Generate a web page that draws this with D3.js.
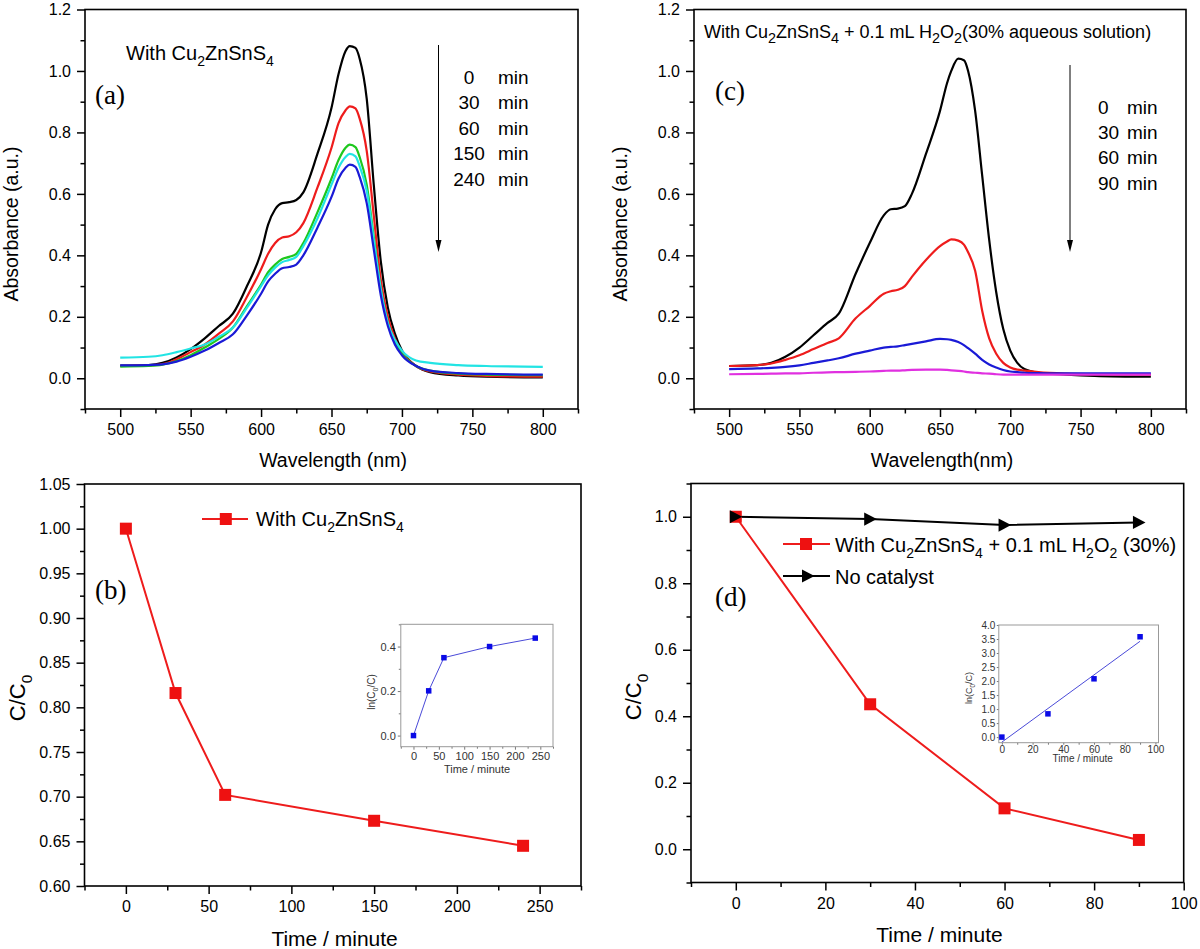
<!DOCTYPE html>
<html><head><meta charset="utf-8">
<script src="https://cdn.jsdelivr.net/npm/d3@7"></script>
<style>
body{margin:0;background:#fff}
svg{display:block}
</style>
</head><body>
<svg id="c" width="1200" height="949" font-family="Liberation Sans, Arial, sans-serif"></svg>
<script>
// ---------------- DATA ----------------
// Panel (a): UV-vis spectra with Cu2ZnSnS4
const wlA = [500,520,530,540,550,560,570,580,590,600,605,610,615,620,625,630,640,650,655,660,663,667,670,675,680,685,690,695,700,710,720,740,760,800];
const a_0min   = [.041,.043,.050,.068,.095,.130,.170,.210,.300,.410,.500,.550,.570,.573,.580,.605,.730,.880,.990,1.065,1.081,1.075,1.040,.910,.630,.380,.230,.145,.090,.040,.020,.009,.005,.003];
const a_30min  = [.040,.042,.046,.062,.085,.110,.145,.185,.265,.355,.405,.440,.458,.462,.475,.505,.620,.750,.830,.872,.885,.878,.845,.740,.530,.320,.200,.130,.085,.040,.022,.012,.008,.005];
const a_60min  = [.038,.040,.044,.056,.075,.100,.128,.165,.235,.305,.345,.370,.388,.395,.405,.440,.540,.650,.710,.750,.760,.752,.720,.630,.460,.290,.180,.120,.080,.040,.025,.015,.012,.010];
const a_150min = [.067,.070,.075,.085,.097,.110,.135,.165,.230,.300,.335,.360,.378,.385,.395,.430,.520,.630,.685,.720,.730,.722,.690,.610,.450,.290,.180,.125,.090,.058,.050,.043,.040,.037];
const a_240min = [.042,.043,.045,.054,.070,.090,.115,.143,.205,.275,.315,.340,.358,.362,.370,.400,.490,.590,.650,.685,.695,.688,.655,.570,.420,.270,.170,.110,.075,.040,.025,.017,.014,.012];
const seriesA = [
  {name:"0 min",   color:"#000000", v:a_0min},
  {name:"30 min",  color:"#ee1c1c", v:a_30min},
  {name:"60 min",  color:"#1ec81e", v:a_60min},
  {name:"150 min", color:"#22e4e4", v:a_150min},
  {name:"240 min", color:"#1a1ad6", v:a_240min}
];
const timeLabelsA = ["0","30","60","150","240"];

// Panel (c): spectra with Cu2ZnSnS4 + H2O2
const wlC = [500,520,530,540,550,560,570,578,590,600,610,615,620,625,630,640,650,655,658,663,667,670,675,680,685,690,695,700,705,710,720,740,760,800];
const c_0min  = [.040,.043,.050,.070,.100,.140,.180,.210,.340,.440,.530,.550,.552,.560,.600,.730,.870,.960,1.000,1.040,1.035,1.000,.870,.660,.450,.280,.160,.090,.050,.030,.018,.012,.008,.005];
const c_30min = [.040,.043,.048,.060,.075,.095,.115,.130,.195,.235,.275,.283,.288,.300,.330,.385,.430,.445,.452,.448,.435,.410,.350,.220,.130,.080,.050,.035,.028,.025,.020,.015,.013,.012];
const c_60min = [.030,.032,.034,.037,.042,.050,.058,.065,.080,.090,.100,.102,.104,.108,.112,.120,.128,.127,.125,.118,.108,.098,.080,.060,.045,.035,.027,.022,.020,.018,.017,.016,.016,.016];
const c_90min = [.013,.014,.015,.016,.016,.018,.019,.020,.021,.022,.024,.025,.025,.026,.027,.028,.028,.027,.026,.024,.022,.020,.018,.016,.015,.013,.012,.012,.012,.012,.012,.012,.012,.012];
const seriesC = [
  {name:"0 min",  color:"#000000", v:c_0min},
  {name:"30 min", color:"#ee1c1c", v:c_30min},
  {name:"60 min", color:"#1a1ad6", v:c_60min},
  {name:"90 min", color:"#e030e0", v:c_90min}
];
const timeLabelsC = ["0","30","60","90"];

// Panel (b): C/C0 vs time with Cu2ZnSnS4
const timeB = [0,30,60,150,240];
const ratioB = [1.000,0.816,0.702,0.673,0.645];
const lnB = [0.000,0.201,0.350,0.400,0.438];

// Panel (d): C/C0 vs time with Cu2ZnSnS4 + H2O2 and without catalyst
const timeD = [0,30,60,90];
const ratioD_cat = [1.000,0.436,0.123,0.028];
const ratioD_none = [1.000,0.993,0.975,0.983];
const lnD = [0.00,0.83,2.08,3.58];
const fitD = [[0,-0.18],[90,3.42]];

// tick values
const ticksSpecX = [500,550,600,650,700,750,800];
const ticksSpecXMinor = [475,525,575,625,675,725,775,825];
const ticksSpecY = [0,0.2,0.4,0.6,0.8,1.0,1.2];
const ticksSpecYMinor = [-0.1,0.1,0.3,0.5,0.7,0.9,1.1];
const ticksBX = [0,50,100,150,200,250];
const ticksBXMinor = [-25,25,75,125,175,225,275];
const ticksBY = [0.60,0.65,0.70,0.75,0.80,0.85,0.90,0.95,1.00,1.05];
const ticksBYMinor = [0.625,0.675,0.725,0.775,0.825,0.875,0.925,0.975,1.025];
const ticksDX = [0,20,40,60,80,100];
const ticksDXMinor = [-10,10,30,50,70,90];
const ticksDY = [0,0.2,0.4,0.6,0.8,1.0];
const ticksDYMinor = [-0.1,0.1,0.3,0.5,0.7,0.9,1.1];
const insBX = [0,50,100,150,200,250];
const insBXMinor = [-25,25,75,125,175,225,275];
const insBY = [0,0.2,0.4];
const insBYMinor = [0.1,0.3,0.5];
const insDX = [0,20,40,60,80,100];
const insDXMinor = [10,30,50,70,90];
const insDY = [0,0.5,1.0,1.5,2.0,2.5,3.0,3.5,4.0];

// ---------------- DRAWING ----------------
const svg = d3.select("#c");
const SANS = '"Liberation Sans", Arial, sans-serif';
const SERIF = '"Liberation Serif", "Times New Roman", serif';

function mkPanel(o) {
  const g = svg.append("g");
  const x = d3.scaleLinear().domain(o.xd).range([o.l, o.r]);
  const y = d3.scaleLinear().domain(o.yd).range([o.b, o.t]);
  const style = (sel) => {
    sel.select(".domain").remove();
    sel.attr("font-family", SANS).attr("font-size", o.fs);
    sel.selectAll("line").attr("stroke", o.tickColor).attr("stroke-width", o.sw);
    sel.selectAll("text").attr("fill", o.textColor);
  };
  g.append("g").attr("transform", `translate(0,${o.b})`)
    .call(d3.axisBottom(x).tickValues(o.xMinor).tickSize(o.minLen).tickFormat("")).call(style);
  g.append("g").attr("transform", `translate(${o.l},0)`)
    .call(d3.axisLeft(y).tickValues(o.yMinor).tickSize(o.minLen).tickFormat("")).call(style);
  g.append("g").attr("transform", `translate(0,${o.b})`)
    .call(d3.axisBottom(x).tickValues(o.xMaj).tickSize(o.majLen).tickPadding(o.xpad).tickFormat(o.xf)).call(style);
  g.append("g").attr("transform", `translate(${o.l},0)`)
    .call(d3.axisLeft(y).tickValues(o.yMaj).tickSize(o.majLen).tickPadding(o.ypad).tickFormat(o.yf)).call(style);
  g.append("rect").attr("x", o.l).attr("y", o.t).attr("width", o.r - o.l).attr("height", o.b - o.t)
    .attr("fill", "none").attr("stroke", o.frameColor).attr("stroke-width", o.fw);
  return {g, x, y};
}

function rich(g, x, y, parts, fs, opt) {
  opt = opt || {};
  const t = g.append("text").attr("x", x).attr("y", y).attr("font-size", fs)
    .attr("font-family", opt.family || SANS)
    .attr("text-anchor", opt.anchor || "start")
    .attr("fill", opt.fill || "#000");
  if (opt.transform) t.attr("transform", opt.transform).attr("x", 0).attr("y", 0);
  const subScale = opt.subScale || 0.7;
  const subShift = opt.subShift || 0.3;
  let shifted = 0;
  parts.forEach(p => {
    const s = typeof p === "string" ? {t: p} : p;
    const ts = t.append("tspan").text(s.t);
    const want = s.sub ? fs * subShift : 0;
    if (want !== shifted) { ts.attr("dy", want - shifted); shifted = want; }
    if (s.sub) ts.attr("font-size", fs * subScale);
  });
  return t;
}

function label(g, x, y, txt, fs, opt) {
  opt = opt || {};
  const t = g.append("text").attr("x", x).attr("y", y).attr("font-size", fs)
    .attr("font-family", opt.family || SANS)
    .attr("text-anchor", opt.anchor || "start")
    .attr("fill", opt.fill || "#000").text(txt);
  if (opt.transform) t.attr("transform", opt.transform).attr("x", 0).attr("y", 0);
  return t;
}

function arrow(g, x, y1, y2) {
  g.append("line").attr("x1", x).attr("x2", x).attr("y1", y1).attr("y2", y2 - 10)
    .attr("stroke", "#000").attr("stroke-width", 1);
  g.append("path").attr("d", `M${x-3},${y2-12} L${x+3},${y2-12} L${x},${y2} Z`).attr("fill", "#000");
}

const fmt1 = d3.format(".1f"), fmt2 = d3.format(".2f"), fmt0 = d3.format("d");
const mainStyle = {fs:16, majLen:8, minLen:4.5, sw:1.5, fw:1.6, tickColor:"#000", textColor:"#000", frameColor:"#000", xpad:7, ypad:6};

// ----- Panel (a) -----
{
  const P = mkPanel(Object.assign({}, mainStyle, {l:85, r:578, t:9.5, b:409, xd:[475,825], yd:[-0.1,1.2],
    xMaj:ticksSpecX, xMinor:ticksSpecXMinor, yMaj:ticksSpecY, yMinor:ticksSpecYMinor, xf:fmt0, yf:fmt1}));
  const line = d3.line().x((d,i) => P.x(wlA[i])).y(d => P.y(d)).curve(d3.curveMonotoneX);
  seriesA.forEach(s => P.g.append("path").datum(s.v).attr("d", line).attr("fill","none")
    .attr("stroke", s.color).attr("stroke-width", 2.2).attr("stroke-linejoin","round"));
  rich(P.g, 126, 60, ["With Cu", {t:"2",sub:1}, "ZnSnS", {t:"4",sub:1}], 20);
  label(P.g, 95, 104, "(a)", 27, {family:SERIF});
  arrow(P.g, 438.5, 45, 252);
  timeLabelsA.forEach((t,i) => {
    const yy = 83.5 + i * 25.6;
    label(P.g, 469, yy, t, 19, {anchor:"middle"});
    label(P.g, 498, yy, "min", 19);
  });
  label(P.g, 333, 467, "Wavelength (nm)", 19.5, {anchor:"middle"});
  label(P.g, 0, 0, "Absorbance (a.u.)", 19.5, {anchor:"middle", transform:"translate(18,224) rotate(-90)"});
}

// ----- Panel (c) -----
{
  const P = mkPanel(Object.assign({}, mainStyle, {l:694, r:1186, t:9.5, b:409, xd:[475,825], yd:[-0.1,1.2],
    xMaj:ticksSpecX, xMinor:ticksSpecXMinor, yMaj:ticksSpecY, yMinor:ticksSpecYMinor, xf:fmt0, yf:fmt1}));
  const line = d3.line().x((d,i) => P.x(wlC[i])).y(d => P.y(d)).curve(d3.curveMonotoneX);
  seriesC.forEach(s => P.g.append("path").datum(s.v).attr("d", line).attr("fill","none")
    .attr("stroke", s.color).attr("stroke-width", 2.2).attr("stroke-linejoin","round"));
  rich(P.g, 704, 38, ["With Cu", {t:"2",sub:1}, "ZnSnS", {t:"4",sub:1}, " + 0.1 mL H", {t:"2",sub:1}, "O", {t:"2",sub:1}, "(30% aqueous solution)"], 18, {subScale:0.8, subShift:0.3});
  label(P.g, 715, 100, "(c)", 27, {family:SERIF});
  arrow(P.g, 1070, 65, 252);
  timeLabelsC.forEach((t,i) => {
    const yy = 113.5 + i * 25.4;
    label(P.g, 1098, yy, t, 19);
    label(P.g, 1127, yy, "min", 19);
  });
  label(P.g, 942, 467, "Wavelength(nm)", 19.5, {anchor:"middle"});
  label(P.g, 0, 0, "Absorbance (a.u.)", 19.5, {anchor:"middle", transform:"translate(627,224) rotate(-90)"});
}

function squares(g, x, y, xs, ys, size, color) {
  g.selectAll(null).data(xs).enter().append("rect")
    .attr("x", (d) => x(d) - size/2).attr("y", (d,i) => y(ys[i]) - size/2)
    .attr("width", size).attr("height", size).attr("fill", color);
}
function triR(g, cx, cy, s, color) {
  g.append("path").attr("d", `M${cx - s*0.5},${cy - s*0.55} L${cx + s*0.55},${cy} L${cx - s*0.5},${cy + s*0.55} Z`).attr("fill", color);
}

const insStyle = {majLen:3, minLen:2, sw:1, fw:1, tickColor:"#777", textColor:"#333", frameColor:"#999"};

// ----- Panel (b) -----
{
  const P = mkPanel(Object.assign({}, mainStyle, {l:84.5, r:581, t:484, b:886, xd:[-25,275], yd:[0.60,1.05],
    xMaj:ticksBX, xMinor:ticksBXMinor, yMaj:ticksBY, yMinor:ticksBYMinor, xf:fmt0, yf:fmt2}));
  const line = d3.line().x((d,i) => P.x(timeB[i])).y(d => P.y(d));
  P.g.append("path").datum(ratioB).attr("d", line).attr("fill","none").attr("stroke","#ee1c1c").attr("stroke-width",2);
  squares(P.g, P.x, P.y, timeB, ratioB, 12, "#ee1111");
  // legend
  P.g.append("line").attr("x1",202).attr("x2",248).attr("y1",519).attr("y2",519).attr("stroke","#ee1c1c").attr("stroke-width",2);
  P.g.append("rect").attr("x",225.8-6).attr("y",519-6).attr("width",12).attr("height",12).attr("fill","#ee1111");
  rich(P.g, 256, 526, ["With Cu", {t:"2",sub:1}, "ZnSnS", {t:"4",sub:1}], 20);
  label(P.g, 95, 599, "(b)", 27, {family:SERIF});
  label(P.g, 334.6, 946, "Time / minute", 21, {anchor:"middle"});
  rich(P.g, 0, 0, ["C/C", {t:"0",sub:1}], 22, {anchor:"middle", transform:"translate(25,698) rotate(-90)"});

  // inset
  const I = mkPanel(Object.assign({}, insStyle, {fs:11, l:400.8, r:553, t:624.3, b:746.7, xd:[-25,275], yd:[-0.05,0.5],
    xMaj:insBX, xMinor:insBXMinor, yMaj:insBY, yMinor:insBYMinor, xf:fmt0, yf:fmt1, xpad:2.5, ypad:2}));
  const il = d3.line().x((d,i) => I.x(timeB[i])).y(d => I.y(d));
  I.g.append("path").datum(lnB).attr("d", il).attr("fill","none").attr("stroke","#4a4ad8").attr("stroke-width",1);
  squares(I.g, I.x, I.y, timeB, lnB, 5.5, "#0a0ae6");
  label(I.g, 477, 773, "Time / minute", 11, {anchor:"middle", fill:"#333"});
  rich(I.g, 0, 0, ["ln(C", {t:"0",sub:1}, "/C)"], 10, {anchor:"middle", transform:"translate(375,692) rotate(-90)", fill:"#333"});
}

// ----- Panel (d) -----
{
  const P = mkPanel(Object.assign({}, mainStyle, {l:691, r:1183.7, t:483.5, b:882.5, xd:[-10,100], yd:[-0.1,1.1],
    xMaj:ticksDX, xMinor:ticksDXMinor, yMaj:ticksDY, yMinor:ticksDYMinor, xf:fmt0, yf:fmt1}));
  const line = d3.line().x((d,i) => P.x(timeD[i])).y(d => P.y(d));
  P.g.append("path").datum(ratioD_cat).attr("d", line).attr("fill","none").attr("stroke","#ee1c1c").attr("stroke-width",2);
  P.g.append("path").datum(ratioD_none).attr("d", line).attr("fill","none").attr("stroke","#000").attr("stroke-width",2);
  squares(P.g, P.x, P.y, timeD, ratioD_cat, 12, "#ee1111");
  timeD.forEach((t,i) => triR(P.g, P.x(t), P.y(ratioD_none[i]), 12, "#000"));
  // legend
  P.g.append("line").attr("x1",783).attr("x2",830).attr("y1",544).attr("y2",544).attr("stroke","#ee1c1c").attr("stroke-width",2);
  P.g.append("rect").attr("x",806-6).attr("y",544-6).attr("width",12).attr("height",12).attr("fill","#ee1111");
  rich(P.g, 835, 551.5, ["With Cu", {t:"2",sub:1}, "ZnSnS", {t:"4",sub:1}, " + 0.1 mL H", {t:"2",sub:1}, "O", {t:"2",sub:1}, " (30%)"], 20);
  P.g.append("line").attr("x1",783).attr("x2",830).attr("y1",576).attr("y2",576).attr("stroke","#000").attr("stroke-width",2);
  triR(P.g, 808, 576, 12, "#000");
  label(P.g, 835, 583.5, "No catalyst", 20);
  label(P.g, 715, 606, "(d)", 27, {family:SERIF});
  label(P.g, 939.5, 941.5, "Time / minute", 21, {anchor:"middle"});
  rich(P.g, 0, 0, ["C/C", {t:"0",sub:1}], 22, {anchor:"middle", transform:"translate(641,697) rotate(-90)"});

  // inset
  const I = mkPanel(Object.assign({}, insStyle, {fs:10, l:998.8, r:1158.5, t:625, b:742.7, xd:[-2,102], yd:[-0.2,4.0],
    xMaj:insDX, xMinor:insDXMinor, yMaj:insDY, yMinor:[], xf:fmt0, yf:fmt1, majLen:2, xpad:1.5, ypad:1.5}));
  I.g.append("path").datum(fitD).attr("d", d3.line().x(d => I.x(d[0])).y(d => I.y(d[1])))
    .attr("fill","none").attr("stroke","#4a4ad8").attr("stroke-width",1);
  squares(I.g, I.x, I.y, timeD, lnD, 5.5, "#0a0ae6");
  label(I.g, 1082.7, 762, "Time / minute", 10, {anchor:"middle", fill:"#333"});
  rich(I.g, 0, 0, ["ln(C", {t:"0",sub:1}, "/C)"], 9, {anchor:"middle", transform:"translate(972,688) rotate(-90)", fill:"#333"});
}
</script>
</body></html>
